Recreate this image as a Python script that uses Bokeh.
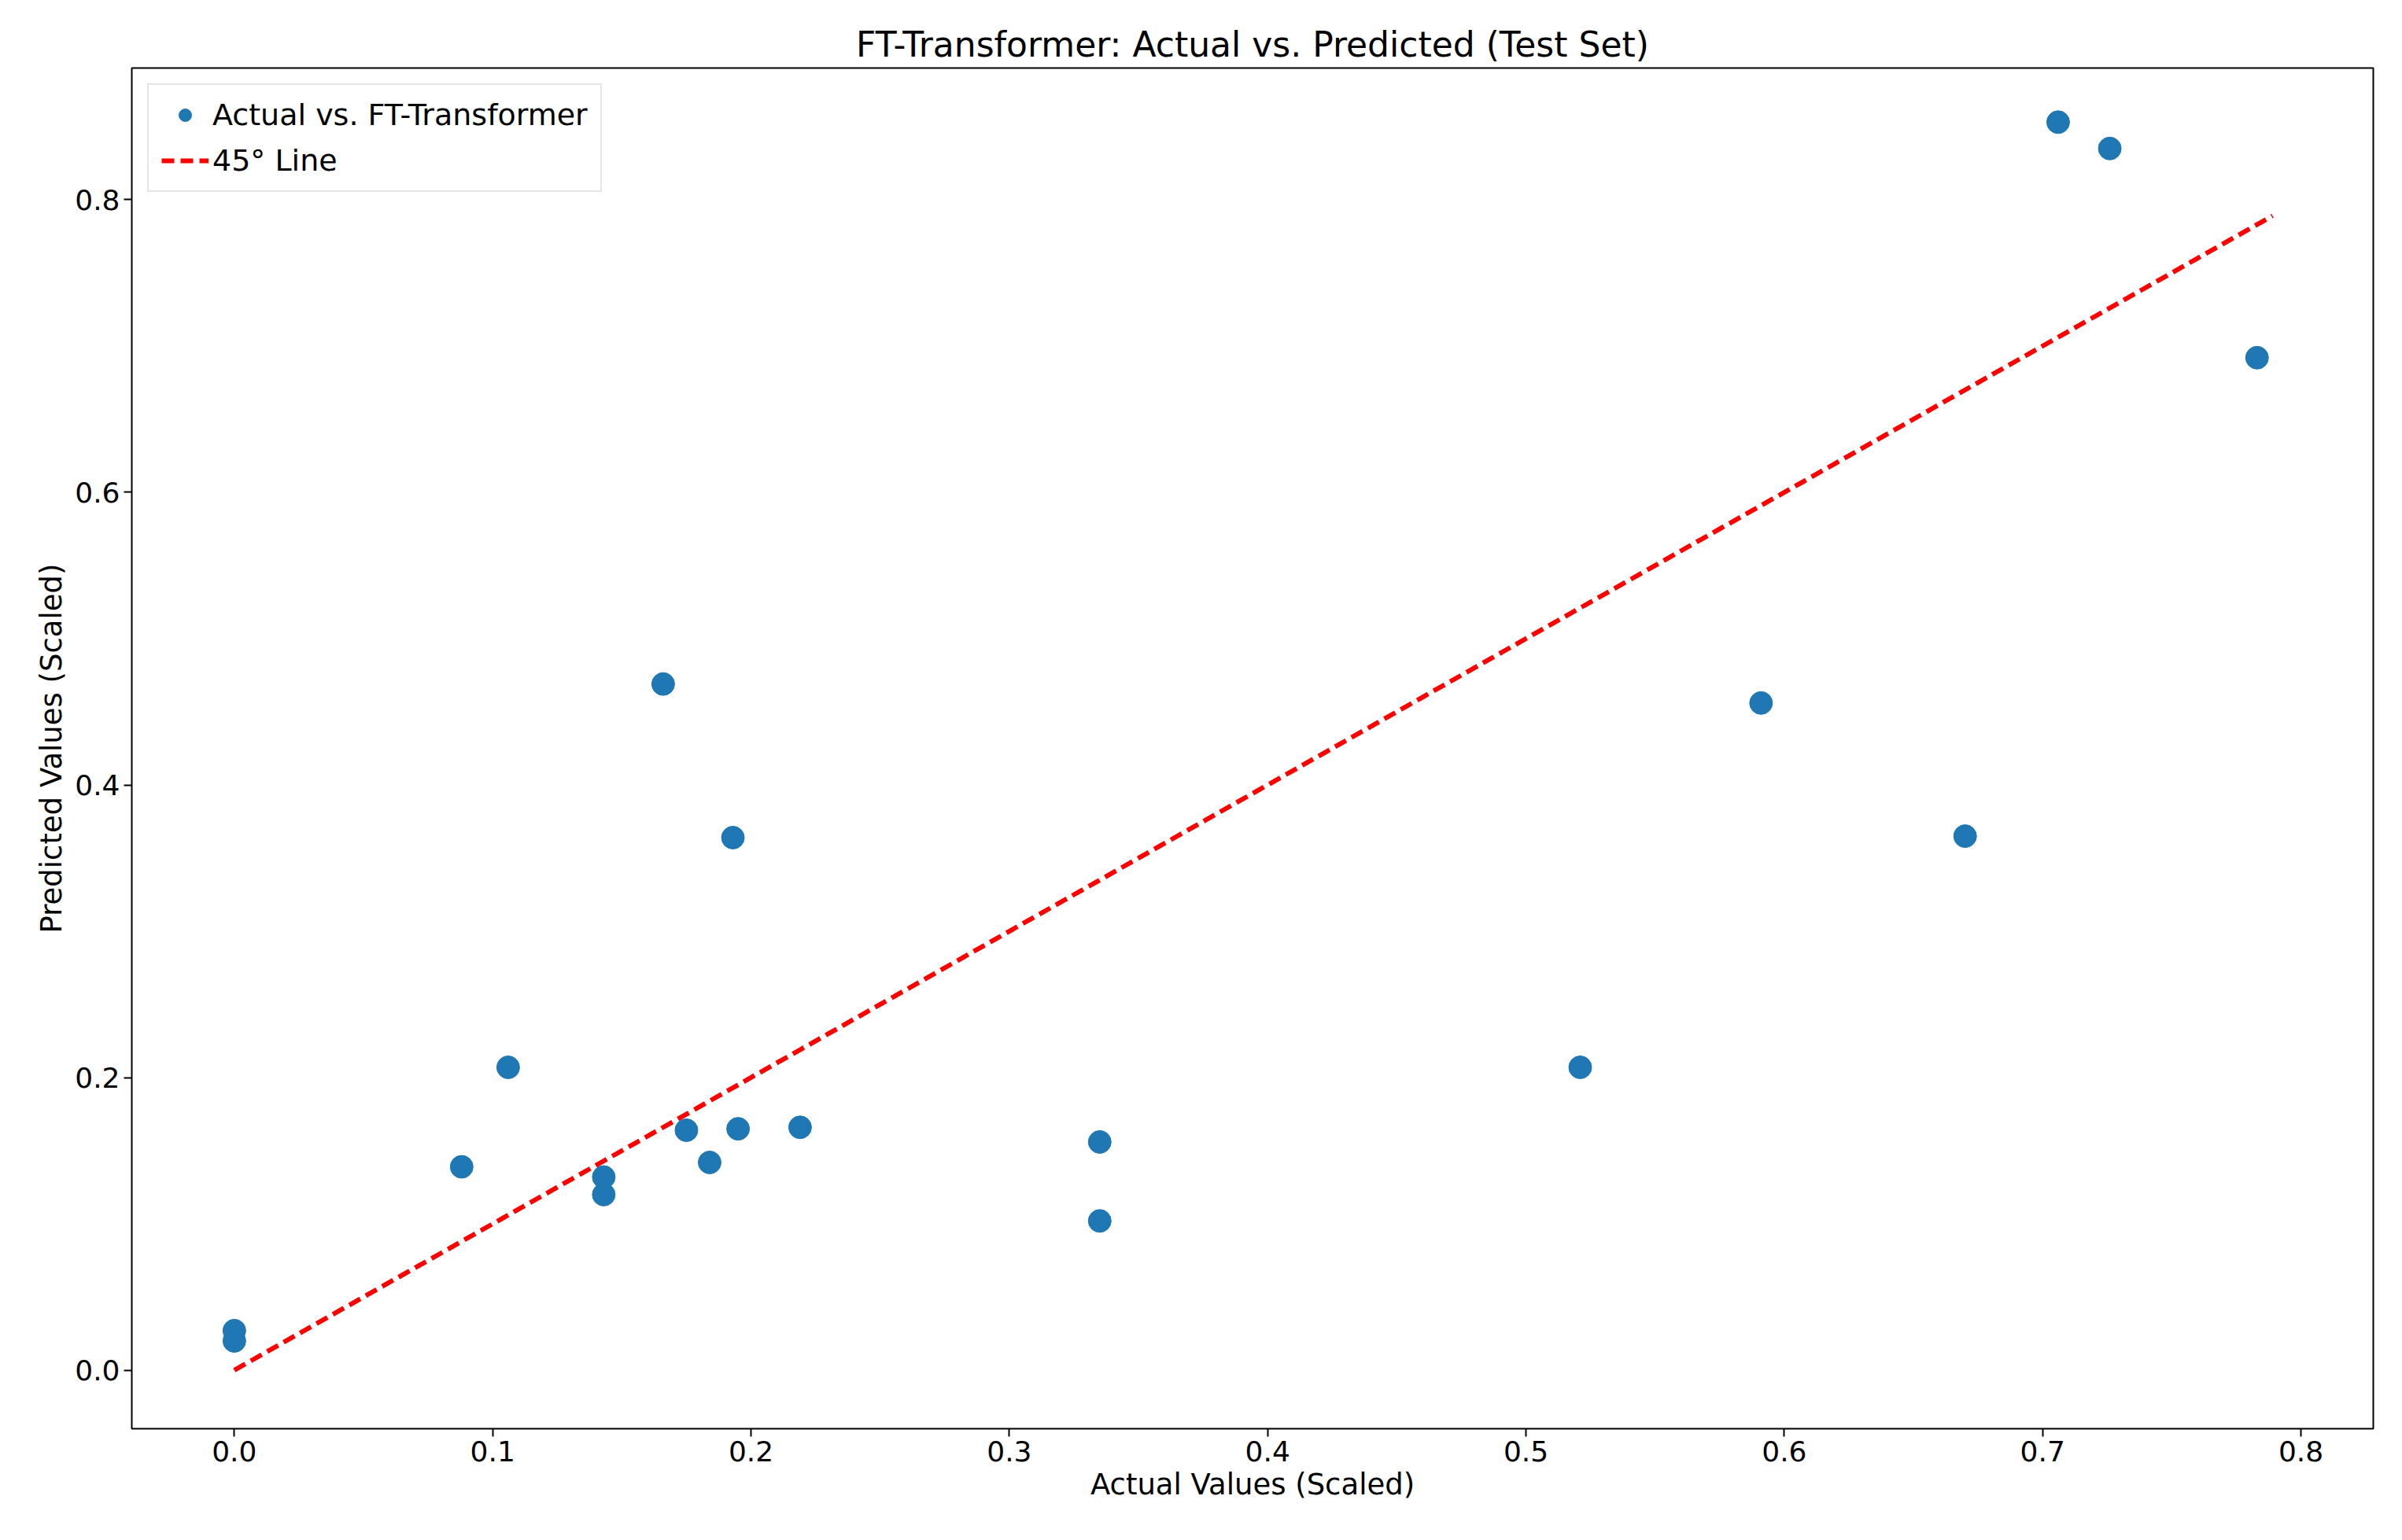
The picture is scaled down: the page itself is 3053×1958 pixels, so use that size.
from bokeh.plotting import figure
from bokeh.embed import file_html
from bokeh.resources import INLINE
from bokeh.models import FixedTicker, Range1d

actual = [0.0, 0.0, 0.088, 0.106, 0.143, 0.143, 0.166, 0.175, 0.184, 0.193, 0.195, 0.219,
          0.335, 0.335, 0.521, 0.591, 0.670, 0.706, 0.726, 0.783]
predicted = [0.027, 0.020, 0.139, 0.207, 0.132, 0.120, 0.469, 0.164, 0.142, 0.364, 0.165, 0.166,
             0.156, 0.102, 0.207, 0.456, 0.365, 0.853, 0.835, 0.692]
line_x = [0.0, 0.789]
line_y = [0.0, 0.789]
xticks = [0.0, 0.1, 0.2, 0.3, 0.4, 0.5, 0.6, 0.7, 0.8]
yticks = [0.0, 0.2, 0.4, 0.6, 0.8]

F = "DejaVu Sans"
p = figure(width=3037, height=1942, output_backend="svg", toolbar_location=None,
           x_range=Range1d(-0.0397, 0.828), y_range=Range1d(-0.040, 0.890),
           min_border_left=167, min_border_right=21, min_border_top=86, min_border_bottom=126,
           title="FT-Transformer: Actual vs. Predicted (Test Set)")
p.title.text_font = F
p.title.text_font_size = "44px"
p.title.text_font_style = "normal"
p.title.text_color = "black"
p.title.align = "center"
p.xgrid.visible = False
p.ygrid.visible = False
p.outline_line_color = "black"
p.outline_line_width = 2
for ax, lab, tk in ((p.xaxis, "Actual Values (Scaled)", xticks), (p.yaxis, "Predicted Values (Scaled)", yticks)):
    ax.axis_label = lab
    ax.axis_label_text_font = F
    ax.axis_label_text_font_size = "37px"
    ax.axis_label_text_font_style = "normal"
    ax.axis_label_text_color = "black"
    ax.major_label_text_font = F
    ax.major_label_text_font_size = "36px"
    ax.major_label_text_color = "black"
    ax.ticker = FixedTicker(ticks=tk)
    ax.major_label_overrides = {t: f"{t:.1f}" for t in tk}
    ax.minor_tick_line_color = None
    ax.major_tick_in = 0
    ax.major_tick_out = 10
    ax.major_tick_line_width = 2
    ax.axis_line_color = None

p.scatter(actual, predicted, size=29, color="#1f77b4", legend_label="Actual vs. FT-Transformer")
p.line(line_x, line_y, line_color="red", line_width=6, line_dash="16 8", legend_label="45° Line")
p.legend.location = "top_left"
p.legend.label_text_font = F
p.legend.label_text_font_size = "38px"
p.legend.label_text_color = "black"
p.legend.border_line_color = "#cccccc"
p.legend.border_line_width = 2
p.legend.glyph_width = 60
p.legend.glyph_height = 40
p.legend.label_height = 40
p.legend.spacing = 14
p.legend.padding = 16
p.legend.margin = 20

open("out.html", "w").write(file_html(p, INLINE))
